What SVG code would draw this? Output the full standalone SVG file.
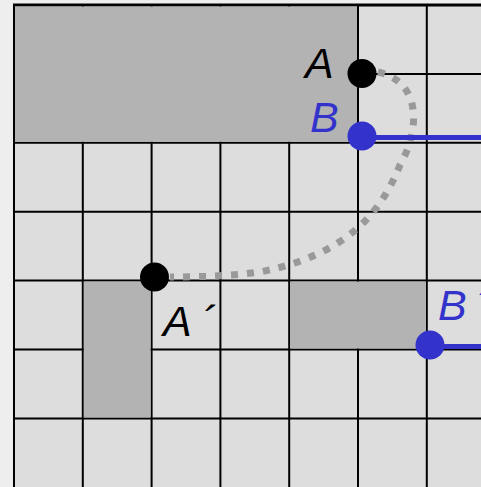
<svg xmlns="http://www.w3.org/2000/svg" width="481" height="487" viewBox="0 0 481 487">
<style>
.grid{stroke:#000;stroke-width:2;fill:none}
.shade{fill:#b3b3b3}
.lbl{font-family:"Liberation Sans",Arial,sans-serif;font-style:italic;font-size:43px}
.blk{fill:#000}
.blu{fill:#3333cc}
.seg{stroke:#3333cc;stroke-width:5;fill:none}
.trace{stroke:#999999;stroke-width:7;stroke-dasharray:7 9;fill:none}
</style>
<rect x="0" y="0" width="481" height="487" fill="#eeeeee"/>
<rect x="14" y="5" width="467" height="482" fill="#dddddd"/>
<g id="grid" class="grid">
<path d="M14 5V487M82.8 5V487M151.6 5V487M220.4 5V487M289.2 5V487M358 5V487M426.8 5V487"/>
<path d="M14 73.9H481M14 142.8H481M14 211.7H481M14 280.6H481M14 349.5H481M14 418.4H481"/>
<path d="M13 5H481" stroke-width="3"/>
</g>
<g id="regions">
<rect class="shade" x="15" y="6.5" width="342" height="135.3"/>
<rect class="shade" x="83.8" y="281.6" width="66.8" height="135.8"/>
<rect class="shade" x="290.2" y="281.6" width="135.6" height="66.9"/>
</g>
<g id="connectors">
<path class="trace" d="M378 72 C422 82,420 130,400 165 C380 215,345 255,260 272 C230 276,200 277,170 277"/>
<line class="seg" x1="362" y1="137.5" x2="481" y2="137.5"/>
<line class="seg" x1="430" y1="346.5" x2="481" y2="346.5"/>
</g>
<g id="A">
<circle class="blk" cx="362" cy="73.5" r="14.5"/>
<text class="lbl blk" x="305" y="78">A</text>
</g>
<g id="B">
<circle class="blu" cx="362" cy="136" r="14.5"/>
<text class="lbl blu" x="310" y="132">B</text>
</g>
<g id="A_prime">
<circle class="blk" cx="154.5" cy="277" r="14.5"/>
<text class="lbl blk" x="163" y="336">A<tspan dx="10">´</tspan></text>
</g>
<g id="B_prime">
<circle class="blu" cx="430" cy="345" r="14.5"/>
<text class="lbl blu" x="438" y="320">B<tspan dx="9">´</tspan></text>
</g>
</svg>
